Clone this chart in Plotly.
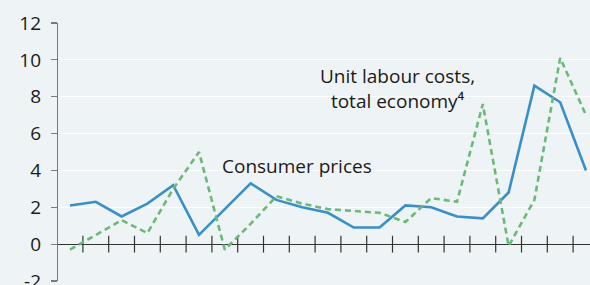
import plotly.graph_objects as go

periods = list(range(21))
consumer_prices = [2.1, 2.3, 1.5, 2.2, 3.2, 0.5, 1.9, 3.3, 2.4, 2.0, 1.7, 0.9, 0.9,
                   2.1, 2.0, 1.5, 1.4, 2.8, 8.6, 7.7, 4.0]
unit_labour_costs = [-0.3, 0.5, 1.3, 0.6, 3.0, 5.0, -0.3, 1.1, 2.6, 2.2, 1.9, 1.8, 1.7,
                     1.2, 2.5, 2.3, 7.6, -0.1, 2.4, 10.1, 7.0]
y_ticks = [-2, 0, 2, 4, 6, 8, 10, 12]
tick_marks = [i + 0.5 for i in periods[:-1]]

BG = "#eef4f5"
FONT = "Open Sans"
FS = 19

fig = go.Figure()
fig.add_trace(go.Scatter(x=tick_marks, y=[0] * len(tick_marks), mode="markers",
                         marker=dict(symbol="line-ns", size=12,
                                     line=dict(color="#333333", width=1.2)),
                         hoverinfo="skip", showlegend=False))
fig.add_trace(go.Scatter(x=periods, y=consumer_prices, mode="lines",
                         line=dict(color="#3a8fc8", width=2.6),
                         name="Consumer prices", showlegend=False))
fig.add_trace(go.Scatter(x=periods, y=unit_labour_costs, mode="lines",
                         line=dict(color="#6cb87a", width=2.6, dash="6px,4px"),
                         name="Unit labour costs", showlegend=False))

fig.update_layout(
    width=590, height=285,
    margin=dict(l=58, r=0, t=23, b=4, autoexpand=False),
    paper_bgcolor=BG, plot_bgcolor=BG,
    font=dict(family=FONT, size=FS, color="#1a1a1a"),
    xaxis=dict(range=[-0.465, 20.155], showgrid=False, zeroline=False,
               showticklabels=False, ticks="", showline=False, fixedrange=True),
    yaxis=dict(range=[-2, 12], tickvals=y_ticks, ticktext=[str(v) for v in y_ticks],
               showgrid=True, gridcolor="#ffffff", gridwidth=1.2,
               zeroline=True, zerolinecolor="#333333", zerolinewidth=1.2,
               showline=True, linecolor="#7a7a7a", linewidth=1.2,
               ticks="outside", ticklen=6, tickcolor="#7a7a7a", tickwidth=1.2,
               ticklabelstandoff=6, automargin=False, ticklabeloverflow="allow",
               tickfont=dict(family=FONT, size=FS, color="#1a1a1a")),
    annotations=[
        dict(x=8.8, y=4.26, xref="x", yref="y", text="Consumer prices",
             showarrow=False, font=dict(family=FONT, size=FS, color="#1a1a1a")),
        dict(x=12.71, y=8.45, xref="x", yref="y",
             text="Unit labour costs,<br>total economy⁴",
             showarrow=False, align="center",
             font=dict(family=FONT, size=FS, color="#1a1a1a")),
    ],
)

fig.write_html(
    "out.html",
    config={"displayModeBar": False, "staticPlot": True},
    post_script="document.body.style.margin='0';document.body.style.overflow='hidden';",
)
